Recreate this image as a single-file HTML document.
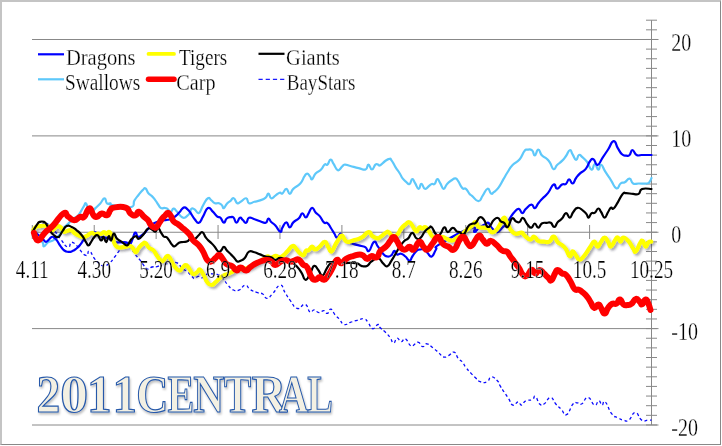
<!DOCTYPE html>
<html><head><meta charset="utf-8"><style>
html,body{margin:0;padding:0;background:#fff;}
#frame{position:absolute;left:0;top:0;width:718px;height:442px;border-top:2px solid #c4c4c4;border-left:2px solid #c4c4c4;border-right:1px solid #888;border-bottom:1px solid #888;background:#fff;overflow:hidden}
svg{position:absolute;left:0;top:0;will-change:transform}
.t text{font-family:"Liberation Serif",serif;fill:#000;stroke:#fff;stroke-width:0.25px}
</style></head><body>
<div id="frame"></div>
<svg width="722" height="446" viewBox="0 0 722 446">
<g>
<line x1="32" y1="39.5" x2="658.5" y2="39.5" stroke="#888" stroke-width="1"/>
<line x1="32" y1="135.9" x2="658.5" y2="135.9" stroke="#888" stroke-width="1"/>
<line x1="32" y1="232.25" x2="658.5" y2="232.25" stroke="#888" stroke-width="1"/>
<line x1="32" y1="328.6" x2="658.5" y2="328.6" stroke="#888" stroke-width="1"/>
<line x1="32" y1="425.0" x2="658.5" y2="425.0" stroke="#888" stroke-width="1"/>
<line x1="651.5" y1="20.2" x2="651.5" y2="425" stroke="#888" stroke-width="1"/>
<line x1="646" y1="20.20" x2="657" y2="20.20" stroke="#888" stroke-width="1"/>
<line x1="646" y1="29.84" x2="657" y2="29.84" stroke="#888" stroke-width="1"/>
<line x1="646" y1="39.47" x2="657" y2="39.47" stroke="#888" stroke-width="1"/>
<line x1="646" y1="49.11" x2="657" y2="49.11" stroke="#888" stroke-width="1"/>
<line x1="646" y1="58.75" x2="657" y2="58.75" stroke="#888" stroke-width="1"/>
<line x1="646" y1="68.39" x2="657" y2="68.39" stroke="#888" stroke-width="1"/>
<line x1="646" y1="78.02" x2="657" y2="78.02" stroke="#888" stroke-width="1"/>
<line x1="646" y1="87.66" x2="657" y2="87.66" stroke="#888" stroke-width="1"/>
<line x1="646" y1="97.30" x2="657" y2="97.30" stroke="#888" stroke-width="1"/>
<line x1="646" y1="106.94" x2="657" y2="106.94" stroke="#888" stroke-width="1"/>
<line x1="646" y1="116.58" x2="657" y2="116.58" stroke="#888" stroke-width="1"/>
<line x1="646" y1="126.21" x2="657" y2="126.21" stroke="#888" stroke-width="1"/>
<line x1="646" y1="135.85" x2="657" y2="135.85" stroke="#888" stroke-width="1"/>
<line x1="646" y1="145.49" x2="657" y2="145.49" stroke="#888" stroke-width="1"/>
<line x1="646" y1="155.12" x2="657" y2="155.12" stroke="#888" stroke-width="1"/>
<line x1="646" y1="164.76" x2="657" y2="164.76" stroke="#888" stroke-width="1"/>
<line x1="646" y1="174.40" x2="657" y2="174.40" stroke="#888" stroke-width="1"/>
<line x1="646" y1="184.04" x2="657" y2="184.04" stroke="#888" stroke-width="1"/>
<line x1="646" y1="193.67" x2="657" y2="193.67" stroke="#888" stroke-width="1"/>
<line x1="646" y1="203.31" x2="657" y2="203.31" stroke="#888" stroke-width="1"/>
<line x1="646" y1="212.95" x2="657" y2="212.95" stroke="#888" stroke-width="1"/>
<line x1="646" y1="222.59" x2="657" y2="222.59" stroke="#888" stroke-width="1"/>
<line x1="646" y1="232.22" x2="657" y2="232.22" stroke="#888" stroke-width="1"/>
<line x1="646" y1="241.86" x2="657" y2="241.86" stroke="#888" stroke-width="1"/>
<line x1="646" y1="251.50" x2="657" y2="251.50" stroke="#888" stroke-width="1"/>
<line x1="646" y1="261.14" x2="657" y2="261.14" stroke="#888" stroke-width="1"/>
<line x1="646" y1="270.77" x2="657" y2="270.77" stroke="#888" stroke-width="1"/>
<line x1="646" y1="280.41" x2="657" y2="280.41" stroke="#888" stroke-width="1"/>
<line x1="646" y1="290.05" x2="657" y2="290.05" stroke="#888" stroke-width="1"/>
<line x1="646" y1="299.69" x2="657" y2="299.69" stroke="#888" stroke-width="1"/>
<line x1="646" y1="309.32" x2="657" y2="309.32" stroke="#888" stroke-width="1"/>
<line x1="646" y1="318.96" x2="657" y2="318.96" stroke="#888" stroke-width="1"/>
<line x1="646" y1="328.60" x2="657" y2="328.60" stroke="#888" stroke-width="1"/>
<line x1="646" y1="338.24" x2="657" y2="338.24" stroke="#888" stroke-width="1"/>
<line x1="646" y1="347.87" x2="657" y2="347.87" stroke="#888" stroke-width="1"/>
<line x1="646" y1="357.51" x2="657" y2="357.51" stroke="#888" stroke-width="1"/>
<line x1="646" y1="367.15" x2="657" y2="367.15" stroke="#888" stroke-width="1"/>
<line x1="646" y1="376.79" x2="657" y2="376.79" stroke="#888" stroke-width="1"/>
<line x1="646" y1="386.42" x2="657" y2="386.42" stroke="#888" stroke-width="1"/>
<line x1="646" y1="396.06" x2="657" y2="396.06" stroke="#888" stroke-width="1"/>
<line x1="646" y1="405.70" x2="657" y2="405.70" stroke="#888" stroke-width="1"/>
<line x1="646" y1="415.34" x2="657" y2="415.34" stroke="#888" stroke-width="1"/>
<line x1="646" y1="424.97" x2="657" y2="424.97" stroke="#888" stroke-width="1"/>
<line x1="32.30" y1="225" x2="32.30" y2="239" stroke="#888" stroke-width="1"/>
<line x1="94.22" y1="225" x2="94.22" y2="239" stroke="#888" stroke-width="1"/>
<line x1="156.14" y1="225" x2="156.14" y2="239" stroke="#888" stroke-width="1"/>
<line x1="218.06" y1="225" x2="218.06" y2="239" stroke="#888" stroke-width="1"/>
<line x1="279.98" y1="225" x2="279.98" y2="239" stroke="#888" stroke-width="1"/>
<line x1="341.90" y1="225" x2="341.90" y2="239" stroke="#888" stroke-width="1"/>
<line x1="403.82" y1="225" x2="403.82" y2="239" stroke="#888" stroke-width="1"/>
<line x1="465.74" y1="225" x2="465.74" y2="239" stroke="#888" stroke-width="1"/>
<line x1="527.66" y1="225" x2="527.66" y2="239" stroke="#888" stroke-width="1"/>
<line x1="589.58" y1="225" x2="589.58" y2="239" stroke="#888" stroke-width="1"/>
<line x1="651.50" y1="225" x2="651.50" y2="239" stroke="#888" stroke-width="1"/>
</g>
<defs><filter id="sh" x="-5%" y="-30%" width="110%" height="160%"><feGaussianBlur in="SourceAlpha" stdDeviation="1.1"/><feOffset dx="1.6" dy="1.8" result="b"/><feFlood flood-color="#303040" flood-opacity="0.40"/><feComposite in2="b" operator="in"/><feMerge><feMergeNode/><feMergeNode in="SourceGraphic"/></feMerge></filter></defs>
<path d="M32.7,230.3 C34.0,229.2 34.7,227.8 37.4,226.2 C40.1,224.6 40.5,225.1 42.8,224.2 C45.1,223.3 44.0,222.0 46.2,222.9 C48.4,223.8 48.2,224.9 50.9,227.6 C53.6,230.3 53.6,229.8 56.3,233.0 C59.0,236.2 57.9,235.8 61.0,239.6 C64.1,243.4 64.9,246.4 68.1,247.2 C71.3,248.0 68.5,240.5 73.1,242.6 C77.7,244.7 80.9,253.0 85.2,255.2 C89.5,257.4 86.8,250.2 89.2,251.0 C91.6,251.8 91.8,255.1 94.3,258.3 C96.8,261.5 96.0,260.8 98.5,262.9 C101.0,265.0 100.9,265.9 103.8,266.0 C106.7,266.1 106.3,265.7 109.2,263.3 C112.1,260.9 112.0,260.3 114.6,257.0 C117.2,253.7 116.7,253.9 119.1,250.8 C121.5,247.7 121.4,247.3 123.6,245.4 C125.8,243.5 125.3,242.9 127.2,243.6 C129.1,244.3 128.6,245.2 130.7,248.1 C132.8,251.0 132.8,251.2 135.2,254.3 C137.6,257.4 137.7,257.2 139.7,259.7 C141.7,262.2 140.7,261.3 142.7,263.8 C144.7,266.3 144.7,268.1 147.2,269.0 C149.7,269.9 149.1,267.8 152.1,267.0 C155.1,266.2 155.4,267.5 158.4,266.1 C161.4,264.7 160.8,262.1 163.3,261.6 C165.8,261.1 165.6,263.8 167.8,264.3 C170.0,264.8 168.9,263.8 171.4,263.4 C173.9,263.0 174.3,261.6 177.2,262.9 C180.1,264.2 179.5,265.9 182.2,268.3 C184.9,270.7 184.9,269.7 187.5,271.9 C190.1,274.1 190.1,274.6 192.0,276.4 C193.9,278.2 193.0,278.6 194.7,278.6 C196.4,278.6 196.2,276.6 198.3,276.4 C200.4,276.2 200.0,278.4 202.5,277.7 C205.0,277.0 204.8,274.9 207.5,273.9 C210.2,272.9 209.9,273.7 212.6,273.9 C215.3,274.1 214.9,273.3 217.6,274.5 C220.3,275.7 219.9,275.6 222.6,278.3 C225.3,281.0 224.9,281.6 227.6,284.6 C230.3,287.6 229.6,288.1 232.6,289.6 C235.6,291.1 235.5,291.4 238.9,290.2 C242.3,289.0 242.2,285.4 245.2,285.2 C248.2,285.0 246.9,287.6 250.2,289.6 C253.5,291.6 254.3,291.5 257.7,292.7 C261.1,293.9 260.3,292.5 262.8,294.0 C265.3,295.5 264.4,298.6 267.1,298.4 C269.8,298.2 269.3,296.9 272.8,293.4 C276.3,289.9 277.0,285.4 280.3,285.2 C283.6,285.0 282.3,288.3 285.0,292.5 C287.7,296.7 287.2,296.6 290.5,300.9 C293.8,305.2 293.6,307.6 297.5,308.5 C301.4,309.4 301.8,303.4 305.1,304.3 C308.4,305.2 307.6,310.5 310.0,312.0 C312.4,313.5 311.8,309.7 314.2,309.9 C316.6,310.1 316.4,312.5 319.0,312.7 C321.6,312.9 321.7,310.4 323.9,310.6 C326.1,310.8 325.5,313.8 327.4,313.4 C329.3,313.0 328.9,308.8 330.9,309.2 C332.9,309.6 332.8,312.2 335.0,314.8 C337.2,317.4 336.8,316.3 339.2,318.9 C341.6,321.5 341.1,323.6 344.1,324.5 C347.1,325.4 346.8,323.5 350.3,322.4 C353.8,321.3 353.6,321.2 357.3,320.3 C361.0,319.4 361.2,318.2 364.2,318.9 C367.2,319.6 366.2,320.5 368.4,323.1 C370.6,325.7 370.0,328.3 372.6,328.7 C375.2,329.1 375.9,324.7 378.0,324.5 C380.1,324.3 378.2,325.6 380.3,327.8 C382.4,330.0 383.3,330.1 385.9,332.7 C388.5,335.3 388.0,334.8 390.1,337.6 C392.2,340.4 391.8,342.9 393.6,343.1 C395.4,343.3 395.0,338.6 397.0,338.2 C399.0,337.8 399.0,341.5 401.2,341.7 C403.4,341.9 402.8,337.8 405.4,338.9 C408.0,340.0 408.3,344.6 410.9,345.9 C413.5,347.2 413.0,344.7 415.1,343.8 C417.2,342.9 416.5,341.7 418.6,342.4 C420.7,343.1 420.6,346.2 422.8,346.6 C425.0,347.0 424.1,343.4 426.9,343.8 C429.7,344.2 430.0,345.6 433.2,348.0 C436.4,350.4 436.0,350.5 438.8,352.9 C441.6,355.3 441.0,356.3 443.6,357.0 C446.2,357.7 445.7,356.9 448.5,355.6 C451.3,354.3 451.5,351.5 454.1,352.2 C456.7,352.9 456.0,355.8 458.2,358.4 C460.4,361.0 460.4,359.7 462.4,362.0 C464.4,364.3 463.3,364.1 465.6,367.1 C467.9,370.1 468.5,370.6 471.1,373.4 C473.7,376.2 472.9,375.4 475.3,377.6 C477.7,379.8 477.1,380.6 480.2,381.7 C483.3,382.8 484.1,383.0 487.1,381.7 C490.1,380.4 488.5,377.1 491.3,376.9 C494.1,376.7 495.3,378.7 497.6,381.0 C499.9,383.3 498.2,382.7 500.0,385.7 C501.8,388.7 502.0,388.8 504.3,392.2 C506.6,395.6 506.3,395.2 508.6,398.6 C510.9,402.0 510.3,404.2 512.9,405.1 C515.5,406.0 515.9,401.8 518.2,401.8 C520.5,401.8 519.5,405.4 521.5,405.1 C523.5,404.8 522.9,402.2 525.8,400.8 C528.7,399.4 529.6,400.8 532.2,399.7 C534.8,398.6 533.4,395.4 535.4,396.5 C537.4,397.6 537.4,402.0 539.7,404.0 C542.0,406.0 541.1,405.7 544.0,404.0 C546.9,402.3 547.4,397.5 550.5,397.5 C553.6,397.5 552.9,400.9 555.8,404.0 C558.7,407.1 558.3,406.4 561.2,409.3 C564.1,412.2 563.5,416.1 566.6,414.7 C569.7,413.3 570.1,407.1 573.0,404.0 C575.9,400.9 575.0,402.9 577.3,402.9 C579.6,402.9 578.7,405.4 581.6,404.0 C584.5,402.6 584.6,397.2 588.0,397.5 C591.4,397.8 591.6,404.2 594.5,405.1 C597.4,406.0 596.8,400.8 598.8,400.8 C600.8,400.8 600.3,404.8 602.0,405.1 C603.7,405.4 602.6,399.5 605.2,401.8 C607.8,404.1 608.2,409.3 611.6,413.6 C615.0,417.9 615.0,416.2 618.1,417.9 C621.2,419.6 620.5,419.5 623.4,420.1 C626.3,420.7 625.6,422.1 628.8,420.1 C632.0,418.1 631.9,412.6 635.3,412.6 C638.7,412.6 638.3,418.1 641.7,420.1 C645.1,422.1 645.5,420.1 648.1,420.1 C650.7,420.1 650.6,420.1 651.5,420.1" fill="none" stroke-linejoin="round" stroke="#0a0aff" stroke-width="1.3" stroke-dasharray="3,2.6"/>
<path d="M32.5,232.0 C33.4,233.6 33.4,235.3 36.0,238.0 C38.6,240.7 40.2,239.9 42.3,242.1 C44.4,244.3 42.4,246.3 44.0,246.3 C45.6,246.3 45.7,243.7 48.2,242.1 C50.7,240.5 50.3,242.2 53.2,240.4 C56.1,238.6 56.4,238.4 59.1,235.3 C61.8,232.2 60.8,231.7 63.3,228.6 C65.8,225.5 65.6,226.3 68.3,223.6 C71.0,220.9 70.7,220.7 73.4,218.5 C76.1,216.3 75.7,218.3 78.4,215.2 C81.1,212.1 81.5,209.9 83.5,206.8 C85.5,203.7 84.7,202.5 86.0,203.4 C87.3,204.3 86.9,207.9 88.5,210.1 C90.1,212.3 90.1,212.3 91.9,211.8 C93.7,211.3 93.0,210.6 95.2,208.4 C97.4,206.2 97.8,206.1 100.3,203.4 C102.8,200.7 102.7,198.4 104.5,198.4 C106.3,198.4 105.4,202.1 107.0,203.4 C108.6,204.7 109.0,202.9 110.4,203.4 C111.8,203.9 107.0,204.2 112.3,205.2 C117.6,206.2 124.4,208.6 130.3,207.3 C136.2,206.0 132.3,203.7 134.5,200.3 C136.7,196.9 136.5,197.5 138.7,194.7 C140.9,191.9 141.1,191.6 142.9,189.9 C144.7,188.2 144.1,187.6 145.6,188.5 C147.1,189.4 146.7,191.3 148.4,193.3 C150.1,195.3 150.0,194.2 151.9,196.1 C153.8,198.0 153.7,198.1 155.4,200.3 C157.1,202.5 156.7,202.4 158.2,204.5 C159.7,206.6 159.1,207.1 160.9,208.0 C162.7,208.9 163.2,207.7 165.1,208.0 C167.0,208.3 166.4,208.2 167.9,209.3 C169.4,210.4 169.2,212.3 170.7,212.1 C172.2,211.9 171.9,209.0 173.4,208.6 C174.9,208.2 174.7,209.2 176.2,210.7 C177.7,212.2 177.5,212.5 179.0,214.2 C180.5,215.9 180.3,216.1 181.8,217.0 C183.3,217.9 183.1,218.1 184.6,217.7 C186.1,217.3 186.0,216.9 187.4,215.6 C188.8,214.3 189.0,214.6 190.0,212.8 C191.0,211.0 190.0,209.7 191.3,208.8 C192.6,207.9 192.7,208.4 194.7,209.5 C196.7,210.6 196.7,214.0 198.9,212.9 C201.1,211.8 200.7,209.2 203.1,205.3 C205.5,201.4 205.7,199.6 207.9,198.3 C210.1,197.0 209.5,199.1 211.4,200.4 C213.3,201.7 212.8,202.5 214.9,203.2 C217.0,203.9 217.2,202.6 219.1,203.2 C221.0,203.8 220.6,204.0 221.9,205.3 C223.2,206.6 222.6,208.5 223.9,208.1 C225.2,207.7 225.0,205.8 226.7,203.9 C228.4,202.0 228.3,202.6 230.2,201.1 C232.1,199.6 231.8,197.7 233.7,198.3 C235.6,198.9 235.4,202.3 237.2,203.2 C239.0,204.1 238.2,203.1 240.6,201.8 C243.0,200.5 244.0,197.9 246.2,198.3 C248.4,198.7 246.8,202.3 249.0,203.2 C251.2,204.1 251.5,202.5 254.5,201.8 C257.5,201.1 257.1,201.5 260.1,200.4 C263.1,199.3 263.5,199.4 265.7,197.6 C267.9,195.8 266.9,193.3 268.4,193.5 C269.9,193.7 269.3,197.7 271.2,198.3 C273.1,198.9 273.2,197.1 275.4,195.6 C277.6,194.1 277.7,193.4 279.6,192.8 C281.5,192.2 280.6,194.5 282.4,193.5 C284.2,192.5 284.3,188.8 286.3,188.9 C288.3,189.0 287.9,193.8 289.8,193.8 C291.7,193.8 290.5,191.7 293.3,188.9 C296.1,186.1 297.3,186.7 300.3,183.4 C303.3,180.1 302.6,179.0 304.4,176.4 C306.2,173.8 305.7,173.6 307.2,173.6 C308.7,173.6 308.7,174.9 310.0,176.4 C311.3,177.9 310.6,179.9 312.1,179.2 C313.6,178.5 313.2,176.2 315.6,173.6 C318.0,171.0 318.7,171.9 321.1,169.5 C323.5,167.1 322.9,165.9 324.6,164.6 C326.3,163.3 325.8,165.9 327.4,164.6 C329.0,163.3 328.9,159.9 330.6,159.7 C332.3,159.5 331.7,161.1 333.6,163.9 C335.5,166.7 335.6,169.5 337.8,170.2 C340.0,170.9 340.1,168.2 342.0,166.7 C343.9,165.2 342.6,164.8 344.8,164.6 C347.0,164.4 346.6,165.1 350.3,166.0 C354.0,166.9 354.6,167.2 358.7,168.1 C362.8,169.0 363.0,170.4 365.6,169.5 C368.2,168.6 366.7,164.6 368.4,164.6 C370.1,164.6 370.0,169.5 371.9,169.5 C373.8,169.5 373.8,165.9 375.4,164.6 C377.0,163.3 376.7,164.4 378.0,164.6 C379.3,164.8 378.4,166.2 380.3,165.2 C382.2,164.2 382.8,162.7 385.2,161.0 C387.6,159.3 387.7,159.1 389.4,158.9 C391.1,158.7 389.8,158.1 391.5,160.3 C393.2,162.5 393.4,163.8 395.6,167.3 C397.8,170.8 397.9,170.5 399.8,173.5 C401.7,176.5 400.9,176.2 402.6,178.4 C404.3,180.6 404.2,180.4 406.1,181.9 C408.0,183.4 407.9,184.6 409.6,183.9 C411.3,183.2 410.8,179.3 412.3,179.1 C413.8,178.9 413.4,180.6 415.1,183.2 C416.8,185.8 416.9,188.6 418.6,188.8 C420.3,189.0 419.7,183.9 421.4,183.9 C423.1,183.9 422.9,188.2 424.9,188.8 C426.9,189.4 427.2,187.3 429.0,186.0 C430.8,184.7 430.3,184.5 431.8,183.9 C433.3,183.3 433.1,185.2 434.6,183.9 C436.1,182.6 435.9,179.3 437.4,179.1 C438.9,178.9 438.5,180.6 440.2,183.2 C441.9,185.8 441.8,188.6 443.6,188.8 C445.4,189.0 445.0,186.1 447.1,183.9 C449.2,181.7 449.1,182.0 451.3,180.5 C453.5,179.0 453.6,178.2 455.4,178.4 C457.2,178.6 456.3,178.6 458.2,181.2 C460.1,183.8 460.3,186.1 462.4,188.1 C464.5,190.1 464.0,187.3 465.9,188.8 C467.8,190.3 467.8,191.8 469.4,193.7 C471.0,195.6 469.6,193.8 472.0,195.8 C474.4,197.8 475.6,201.3 478.5,201.2 C481.4,201.1 480.3,198.9 482.7,195.6 C485.1,192.3 485.4,189.3 487.6,188.7 C489.8,188.1 489.3,192.6 491.0,193.5 C492.7,194.4 491.7,193.9 493.8,192.2 C495.9,190.5 496.1,190.8 498.7,187.3 C501.3,183.8 501.2,183.0 503.6,178.9 C506.0,174.8 505.3,175.7 507.7,172.0 C510.1,168.3 509.5,168.3 512.6,165.0 C515.7,161.7 516.4,163.2 519.5,159.5 C522.6,155.8 522.3,153.7 524.4,151.1 C526.5,148.5 525.1,149.9 527.2,149.7 C529.3,149.5 530.1,148.9 532.1,150.4 C534.1,151.9 533.1,155.5 534.8,155.3 C536.5,155.1 536.4,149.7 538.3,149.7 C540.2,149.7 539.6,152.9 541.8,155.3 C544.0,157.7 544.5,156.8 546.7,158.8 C548.9,160.8 548.3,160.1 550.1,162.9 C551.9,165.7 551.7,168.6 553.6,169.2 C555.5,169.8 554.9,167.2 557.1,165.0 C559.3,162.8 559.6,163.3 562.0,160.9 C564.4,158.5 563.9,158.9 566.0,156.0 C568.1,153.1 568.0,150.7 569.8,150.2 C571.6,149.7 570.9,151.7 572.6,154.3 C574.3,156.9 574.4,159.7 576.1,159.9 C577.8,160.1 577.2,155.7 578.9,155.0 C580.6,154.3 580.1,155.2 582.3,157.1 C584.5,159.0 584.8,158.7 587.2,162.0 C589.6,165.3 589.3,169.0 591.4,169.6 C593.5,170.2 593.1,164.1 594.9,164.1 C596.7,164.1 596.6,169.4 598.3,169.6 C600.0,169.8 599.2,164.2 601.1,164.8 C603.0,165.4 602.7,167.6 605.3,171.7 C607.9,175.8 607.9,175.6 610.9,180.1 C613.9,184.6 613.8,187.5 616.4,188.4 C619.0,189.3 618.4,185.2 620.6,183.5 C622.8,181.8 622.4,183.5 624.8,182.2 C627.2,180.9 627.4,178.4 629.6,178.7 C631.8,179.0 630.7,182.2 633.1,183.5 C635.5,184.8 635.0,183.5 638.7,183.5 C642.4,183.5 644.0,184.0 647.0,183.5 C650.0,183.0 648.6,183.0 649.8,181.5 C651.0,180.0 651.0,178.9 651.5,178.0" fill="none" stroke-linejoin="round" stroke-linecap="round" stroke="#5ec8fa" stroke-width="2.2"/>
<path d="M32.7,230.3 C33.6,231.0 33.4,230.7 36.1,233.0 C38.8,235.3 40.3,236.7 42.8,239.0 C45.3,241.3 44.1,241.3 45.5,241.7 C46.9,242.1 46.6,241.7 48.2,240.4 C49.8,239.1 50.0,237.7 51.6,237.0 C53.2,236.3 52.8,236.8 54.2,237.7 C55.6,238.6 55.3,238.2 56.9,240.4 C58.5,242.6 58.3,243.1 60.3,245.8 C62.3,248.5 62.1,248.9 64.3,250.5 C66.5,252.1 66.2,251.6 68.4,251.8 C70.6,252.0 70.2,252.0 72.4,251.1 C74.6,250.2 74.3,250.3 76.5,248.5 C78.7,246.7 78.7,246.6 80.5,244.4 C82.3,242.2 81.8,242.4 83.2,240.4 C84.6,238.4 84.1,238.6 85.9,237.0 C87.7,235.4 87.4,235.6 89.9,234.3 C92.4,233.0 92.3,231.6 95.3,232.3 C98.3,233.0 97.7,235.2 101.1,236.8 C104.5,238.4 104.6,236.9 108.1,238.2 C111.6,239.5 111.3,240.6 114.3,241.7 C117.3,242.8 116.0,242.2 119.2,242.4 C122.4,242.6 123.4,241.8 126.2,242.4 C129.0,243.0 127.9,245.2 129.6,244.5 C131.3,243.8 130.9,242.8 132.4,239.6 C133.9,236.4 133.7,233.3 135.2,232.6 C136.7,231.9 136.3,236.1 138.0,236.8 C139.7,237.5 139.7,236.5 141.5,235.4 C143.3,234.3 143.1,234.4 144.9,232.6 C146.7,230.8 146.0,231.0 148.4,228.5 C150.8,226.0 150.3,225.3 154.0,223.2 C157.7,221.1 158.6,221.4 162.3,220.5 C166.0,219.6 164.9,220.5 167.9,219.8 C170.9,219.1 170.4,219.6 173.4,217.7 C176.4,215.8 176.8,215.0 179.0,212.8 C181.2,210.6 180.3,210.8 181.8,209.3 C183.3,207.8 183.1,207.3 184.6,207.3 C186.1,207.3 186.0,208.0 187.4,209.3 C188.8,210.6 188.1,209.5 190.0,212.1 C191.9,214.7 192.3,216.4 194.7,219.2 C197.1,222.0 196.7,223.4 198.9,222.7 C201.1,222.0 200.7,220.3 203.1,216.4 C205.5,212.5 205.3,209.4 207.9,208.1 C210.5,206.8 210.4,209.4 212.8,211.6 C215.2,213.8 214.9,214.7 217.0,216.4 C219.1,218.1 218.7,216.1 220.5,217.8 C222.3,219.5 222.2,222.5 223.9,222.7 C225.6,222.9 224.8,220.0 226.7,218.5 C228.6,217.0 229.0,217.3 230.9,217.1 C232.8,216.9 232.2,216.3 233.7,217.8 C235.2,219.3 234.8,222.7 236.5,222.7 C238.2,222.7 238.2,218.5 239.9,217.8 C241.6,217.1 241.0,218.6 242.7,219.9 C244.4,221.2 244.5,223.3 246.2,222.7 C247.9,222.1 246.8,218.7 249.0,217.8 C251.2,216.9 251.5,218.3 254.5,219.2 C257.5,220.1 257.1,220.4 260.1,221.3 C263.1,222.2 263.5,223.4 265.7,222.7 C267.9,222.0 266.9,218.7 268.4,218.5 C269.9,218.3 269.3,220.1 271.2,222.0 C273.1,223.9 273.0,222.9 275.4,225.5 C277.8,228.1 278.4,231.1 280.3,231.7 C282.2,232.3 280.8,230.1 282.4,227.6 C284.0,225.1 284.3,222.5 286.3,222.4 C288.3,222.3 287.9,227.3 289.8,227.3 C291.7,227.3 290.9,224.8 293.3,222.4 C295.7,220.0 296.5,220.6 298.9,218.2 C301.3,215.8 300.5,213.5 302.3,213.3 C304.1,213.1 304.1,217.5 305.8,217.5 C307.5,217.5 306.9,215.9 308.6,213.3 C310.3,210.7 310.2,208.0 312.1,207.8 C314.0,207.6 313.6,210.4 315.6,212.6 C317.6,214.8 317.5,213.5 319.7,216.1 C321.9,218.7 321.8,220.5 323.9,222.4 C326.0,224.3 325.5,221.6 327.4,223.1 C329.3,224.6 329.1,225.2 330.9,228.0 C332.7,230.8 332.6,230.9 334.3,233.5 C336.0,236.1 335.4,237.7 337.1,237.7 C338.8,237.7 338.9,233.3 340.6,233.5 C342.3,233.7 341.6,236.2 343.4,238.4 C345.2,240.6 344.9,240.4 347.5,241.9 C350.1,243.4 349.4,242.8 353.1,243.9 C356.8,245.0 358.1,245.1 361.4,246.0 C364.7,246.9 363.5,246.1 365.6,247.4 C367.7,248.7 366.9,252.4 369.1,250.9 C371.3,249.4 371.6,243.0 374.0,241.9 C376.4,240.8 375.6,243.6 378.0,246.7 C380.4,249.8 380.6,251.1 383.1,253.7 C385.6,256.3 385.1,256.1 387.3,256.5 C389.5,256.9 389.6,256.6 391.5,255.1 C393.4,253.6 392.8,251.1 394.3,250.9 C395.8,250.7 395.2,253.7 397.0,254.4 C398.8,255.1 399.0,253.1 401.2,253.7 C403.4,254.3 403.2,254.7 405.4,256.5 C407.6,258.3 407.8,260.6 409.6,260.6 C411.4,260.6 410.5,259.1 412.3,256.5 C414.1,253.9 414.4,252.8 416.5,250.9 C418.6,249.0 417.9,249.9 420.0,249.5 C422.1,249.1 422.2,248.6 424.2,249.5 C426.2,250.4 425.6,251.1 427.6,253.0 C429.6,254.9 429.6,257.4 431.8,256.5 C434.0,255.6 433.8,252.9 436.0,249.5 C438.2,246.1 431.1,249.5 440.2,243.9 C449.3,238.3 461.1,231.6 470.2,228.4 C479.3,225.2 472.5,231.5 474.3,231.9 C476.1,232.3 475.2,231.3 477.1,229.8 C479.0,228.3 479.1,227.8 481.3,226.3 C483.5,224.8 483.6,225.1 485.5,224.2 C487.4,223.3 486.8,222.1 488.3,222.8 C489.8,223.5 489.3,224.9 491.0,227.0 C492.7,229.1 492.6,229.2 494.5,230.5 C496.4,231.8 495.9,232.6 498.0,231.9 C500.1,231.2 500.0,229.8 502.2,227.7 C504.4,225.6 504.1,227.0 506.3,224.2 C508.5,221.4 508.3,220.6 510.5,217.3 C512.7,214.0 512.5,213.9 514.7,211.7 C516.9,209.5 516.9,208.5 518.9,208.9 C520.9,209.3 520.5,213.1 522.3,213.1 C524.1,213.1 523.4,211.1 525.8,208.9 C528.2,206.7 529.0,204.9 531.4,204.7 C533.8,204.5 533.0,208.6 534.8,208.2 C536.6,207.8 536.2,205.9 538.3,203.3 C540.4,200.7 539.9,201.3 542.5,198.5 C545.1,195.7 545.1,196.6 548.1,192.9 C551.1,189.2 551.2,185.6 553.6,184.5 C556.0,183.4 554.9,188.7 557.1,188.7 C559.3,188.7 559.6,185.8 562.0,184.5 C564.4,183.2 564.1,185.2 566.0,183.8 C567.9,182.4 567.3,179.5 569.1,179.4 C570.9,179.3 570.7,183.9 572.6,183.5 C574.5,183.1 574.0,180.8 576.1,178.0 C578.2,175.2 577.7,175.5 580.3,173.1 C582.9,170.7 583.2,172.0 585.8,168.9 C588.4,165.8 587.9,163.9 590.0,161.3 C592.1,158.7 591.5,158.3 593.5,159.2 C595.5,160.1 595.2,165.2 597.6,164.8 C600.0,164.4 599.7,161.9 602.5,157.8 C605.3,153.7 605.1,154.0 608.1,149.5 C611.1,145.0 611.0,141.5 613.6,141.1 C616.2,140.7 615.6,144.6 617.8,148.1 C620.0,151.6 619.8,152.3 622.0,154.3 C624.2,156.3 624.2,155.5 626.2,155.7 C628.2,155.9 627.9,156.5 629.6,155.0 C631.3,153.5 630.5,150.2 632.4,150.2 C634.3,150.2 634.2,153.7 636.6,155.0 C639.0,156.3 637.5,155.0 641.5,155.0 C645.5,155.0 648.8,155.0 651.5,155.0" fill="none" stroke-linejoin="round" stroke-linecap="round" stroke="#0000ff" stroke-width="2.2"/>
<path d="M33.4,230.0 C34.2,229.1 34.7,227.5 36.5,226.5 C38.3,225.5 37.7,226.4 40.1,226.2 C42.5,226.0 43.2,225.3 45.5,225.6 C47.8,225.9 47.1,225.9 48.9,227.2 C50.7,228.5 50.2,230.4 52.2,230.3 C54.2,230.2 54.1,227.8 56.3,226.9 C58.5,226.0 58.3,225.6 60.3,226.9 C62.3,228.2 61.9,230.5 63.7,231.6 C65.5,232.7 65.0,231.3 67.0,231.0 C69.0,230.7 68.9,229.6 71.1,230.3 C73.3,231.0 73.0,232.2 75.1,233.6 C77.2,235.0 76.9,234.8 79.1,235.7 C81.3,236.6 81.0,237.0 83.2,237.0 C85.4,237.0 85.0,236.8 87.2,235.7 C89.4,234.6 89.1,233.4 91.3,233.0 C93.5,232.6 93.5,234.1 95.3,234.3 C97.1,234.5 96.5,233.7 98.0,233.6 C99.5,233.5 99.5,234.4 101.1,234.0 C102.7,233.6 102.4,232.0 103.9,232.0 C105.4,232.0 105.2,234.0 106.7,234.0 C108.2,234.0 108.0,231.1 109.5,232.0 C111.0,232.9 110.8,234.2 112.3,237.5 C113.8,240.8 113.5,241.9 115.0,244.5 C116.5,247.1 115.9,246.6 117.8,247.3 C119.7,248.0 119.8,247.5 122.0,247.3 C124.2,247.1 124.0,247.0 126.2,246.6 C128.4,246.2 128.5,245.4 130.3,245.9 C132.1,246.4 131.6,246.9 133.1,248.6 C134.6,250.3 134.4,252.3 135.9,252.1 C137.4,251.9 136.8,250.2 138.7,248.0 C140.6,245.8 141.1,245.1 142.9,243.8 C144.7,242.5 143.8,242.0 145.4,243.0 C147.0,244.0 146.8,245.7 149.0,247.7 C151.2,249.7 151.4,248.2 153.5,250.4 C155.6,252.6 155.1,253.2 157.0,255.8 C158.9,258.4 158.9,258.9 160.6,260.2 C162.3,261.5 161.6,261.8 163.3,260.7 C165.0,259.6 165.2,257.0 166.9,256.2 C168.6,255.4 168.2,255.8 169.6,257.6 C171.0,259.4 170.9,260.4 172.3,262.9 C173.7,265.4 173.1,264.9 175.0,267.0 C176.9,269.1 177.4,270.6 179.5,270.6 C181.6,270.6 181.3,268.4 183.0,267.0 C184.7,265.6 184.3,265.1 185.7,265.2 C187.1,265.3 187.0,265.6 188.4,267.4 C189.8,269.2 189.7,270.1 191.1,271.9 C192.5,273.7 192.1,274.1 193.8,274.1 C195.5,274.1 195.7,273.1 197.4,271.9 C199.1,270.7 198.3,268.8 200.0,269.7 C201.7,270.6 201.9,272.0 203.8,275.3 C205.7,278.6 205.3,279.6 207.3,282.2 C209.3,284.8 209.2,285.0 211.4,285.0 C213.6,285.0 213.4,284.0 215.6,282.2 C217.8,280.4 217.6,279.9 219.8,278.1 C222.0,276.3 221.7,276.4 223.9,275.3 C226.1,274.2 225.9,274.8 228.1,273.9 C230.3,273.0 230.1,273.0 232.3,271.8 C234.5,270.6 232.8,270.4 236.5,269.5 C240.2,268.6 240.8,270.1 246.0,268.5 C251.2,266.9 251.5,265.9 256.0,263.5 C260.5,261.1 260.0,261.4 263.0,259.5 C266.0,257.6 264.9,256.9 267.1,256.5 C269.3,256.1 269.0,258.1 271.2,257.9 C273.4,257.7 273.2,256.0 275.4,255.8 C277.6,255.6 277.4,257.4 279.6,257.2 C281.8,257.0 281.4,256.8 283.6,255.1 C285.8,253.4 285.3,253.3 287.7,250.9 C290.1,248.5 290.4,246.6 292.6,246.0 C294.8,245.4 294.0,246.7 296.1,248.8 C298.2,250.9 298.3,252.0 300.3,253.7 C302.3,255.4 302.2,255.8 303.7,255.1 C305.2,254.4 304.5,252.2 305.8,250.9 C307.1,249.6 306.9,251.3 308.6,250.2 C310.3,249.1 310.4,246.9 312.1,246.7 C313.8,246.5 312.9,249.5 314.9,249.5 C316.9,249.5 317.1,248.7 319.7,246.7 C322.3,244.7 322.4,241.9 324.6,241.9 C326.8,241.9 326.3,244.1 328.1,246.7 C329.9,249.3 329.7,252.0 331.5,251.6 C333.3,251.2 332.9,248.8 335.0,245.3 C337.1,241.8 337.3,241.0 339.2,238.4 C341.1,235.8 340.5,235.2 342.0,235.6 C343.5,236.0 343.3,238.1 344.8,239.8 C346.3,241.5 345.3,241.7 347.5,241.9 C349.7,242.1 349.4,241.6 353.1,240.5 C356.8,239.4 357.3,239.9 361.4,237.7 C365.5,235.5 365.4,232.5 368.4,232.1 C371.4,231.7 370.0,234.6 372.6,236.3 C375.2,238.0 375.9,238.2 378.0,238.4 C380.1,238.6 378.2,238.5 380.3,237.0 C382.4,235.5 383.7,234.1 385.9,232.8 C388.1,231.5 387.0,231.4 388.7,232.1 C390.4,232.8 390.0,234.9 392.2,235.6 C394.4,236.3 394.6,236.8 397.0,234.9 C399.4,233.0 399.0,231.4 401.2,228.6 C403.4,225.8 403.2,226.2 405.4,224.5 C407.6,222.8 407.4,221.5 409.6,222.4 C411.8,223.3 411.9,225.5 413.7,227.9 C415.5,230.3 415.0,231.6 416.5,231.4 C418.0,231.2 417.8,228.0 419.3,227.3 C420.8,226.6 420.4,228.6 422.1,228.6 C423.8,228.6 423.7,226.6 425.5,227.3 C427.3,228.0 426.9,228.8 429.0,231.4 C431.1,234.0 430.6,235.5 433.2,237.0 C435.8,238.5 436.2,237.0 438.8,237.0 C441.4,237.0 440.7,236.4 442.9,237.0 C445.1,237.6 444.5,238.2 447.1,239.1 C449.7,240.0 450.1,240.9 452.7,240.5 C455.3,240.1 454.6,239.2 456.8,237.7 C459.0,236.2 458.4,237.0 461.0,234.9 C463.6,232.8 463.7,232.4 466.6,230.0 C469.5,227.6 469.6,228.0 472.0,225.9 C474.4,223.8 474.0,221.8 475.7,222.1 C477.4,222.4 476.3,225.5 478.5,227.0 C480.7,228.5 481.5,227.3 484.1,227.7 C486.7,228.1 486.5,227.3 488.3,228.4 C490.1,229.5 489.2,231.2 491.0,231.9 C492.8,232.6 493.0,232.9 495.2,231.2 C497.4,229.5 497.2,229.1 499.4,225.6 C501.6,222.1 501.8,219.1 503.6,218.0 C505.4,216.9 504.8,219.0 506.3,221.4 C507.8,223.8 507.6,224.4 509.1,227.0 C510.6,229.6 510.0,229.4 511.9,231.2 C513.8,233.0 513.5,233.5 516.1,233.9 C518.7,234.3 519.4,232.2 521.6,232.6 C523.8,233.0 522.2,233.5 524.4,235.3 C526.6,237.1 527.4,239.1 530.0,239.5 C532.6,239.9 532.0,236.3 534.2,236.7 C536.4,237.1 535.7,239.6 538.3,240.9 C540.9,242.2 540.9,241.4 543.9,241.6 C546.9,241.8 546.8,242.9 549.4,241.6 C552.0,240.3 551.4,236.5 553.6,236.7 C555.8,236.9 555.6,240.1 557.8,242.3 C560.0,244.5 559.8,243.3 562.0,245.1 C564.2,246.9 563.9,246.2 566.0,249.2 C568.1,252.2 568.0,255.7 569.8,256.3 C571.6,256.9 570.9,251.6 572.6,251.4 C574.3,251.2 574.2,253.4 576.1,255.6 C578.0,257.8 577.4,259.8 579.6,259.8 C581.8,259.8 581.6,258.9 584.4,255.6 C587.2,252.3 587.4,251.0 590.0,247.3 C592.6,243.6 592.2,241.9 594.2,241.7 C596.2,241.5 595.8,246.6 597.6,246.6 C599.4,246.6 599.2,244.1 601.1,241.7 C603.0,239.3 602.7,237.5 604.6,237.5 C606.5,237.5 606.4,239.3 608.1,241.7 C609.8,244.1 609.1,247.0 610.9,246.6 C612.7,246.2 613.2,242.7 615.0,240.3 C616.8,237.9 616.3,237.1 617.8,237.5 C619.3,237.9 619.1,241.7 620.6,241.7 C622.1,241.7 621.2,237.5 623.4,237.5 C625.6,237.5 626.3,238.7 628.9,241.7 C631.5,244.7 631.2,246.0 633.1,248.6 C635.0,251.2 634.0,252.9 635.9,251.4 C637.8,249.9 638.3,245.9 640.1,243.1 C641.9,240.3 641.3,240.1 642.8,241.0 C644.3,241.9 644.1,246.2 645.6,246.6 C647.1,247.0 646.9,243.7 648.4,242.4 C649.9,241.1 650.5,241.9 651.2,241.7" fill="none" stroke-linejoin="round" stroke-linecap="round" stroke="#ffff00" stroke-width="4.2" filter="url(#sh)"/>
<path d="M33.0,231.1 C34.1,229.3 35.4,226.9 37.2,224.4 C39.0,221.9 38.0,222.6 39.8,221.9 C41.6,221.2 42.2,221.2 44.0,221.9 C45.8,222.6 45.0,222.2 46.5,224.4 C48.0,226.6 48.0,227.6 49.8,230.3 C51.6,233.0 50.9,232.7 53.2,234.5 C55.5,236.3 55.8,237.9 58.3,237.0 C60.8,236.1 60.3,234.0 62.5,231.1 C64.7,228.2 64.2,227.2 66.7,226.1 C69.2,225.0 69.0,225.8 71.7,226.9 C74.4,228.0 74.0,228.1 76.7,230.3 C79.4,232.5 79.3,232.2 81.8,235.3 C84.3,238.4 84.2,239.4 86.0,242.1 C87.8,244.8 87.2,245.4 88.5,245.4 C89.8,245.4 89.4,244.3 91.0,242.1 C92.6,239.9 92.6,238.8 94.4,237.0 C96.2,235.2 95.9,234.4 97.7,235.3 C99.5,236.2 99.5,239.9 101.1,240.4 C102.7,240.9 102.2,236.5 103.6,237.0 C105.0,237.5 104.8,242.3 106.2,242.1 C107.6,241.9 107.4,236.7 108.7,236.2 C110.0,235.7 109.9,241.1 111.2,240.4 C112.5,239.7 112.1,234.2 113.7,233.7 C115.3,233.2 114.9,236.5 117.1,238.7 C119.3,240.9 119.4,240.3 122.1,242.1 C124.8,243.9 125.0,245.9 127.2,245.4 C129.4,244.9 128.3,242.9 130.5,240.4 C132.7,237.9 133.4,236.7 135.6,236.2 C137.8,235.7 136.7,239.4 138.9,238.7 C141.1,238.0 141.6,236.4 144.0,233.7 C146.4,231.0 145.9,229.7 148.0,228.6 C150.1,227.5 149.9,228.7 151.9,229.5 C153.9,230.3 153.7,232.0 155.4,231.6 C157.1,231.2 156.7,227.9 158.2,228.1 C159.7,228.3 159.4,230.1 160.9,232.3 C162.4,234.5 162.2,235.2 163.7,236.5 C165.2,237.8 165.0,236.1 166.5,237.2 C168.0,238.3 167.8,238.6 169.3,240.6 C170.8,242.6 170.6,243.3 172.1,244.8 C173.6,246.3 173.0,246.8 174.8,246.2 C176.6,245.6 176.8,243.8 179.0,242.7 C181.2,241.6 181.0,242.4 183.2,242.0 C185.4,241.6 185.6,242.0 187.4,241.3 C189.2,240.6 188.1,239.8 190.0,239.2 C191.9,238.6 192.3,240.2 194.7,239.1 C197.1,238.0 196.8,236.8 198.9,235.0 C201.0,233.2 200.5,231.5 202.4,232.2 C204.3,232.9 203.9,235.1 205.9,237.7 C207.9,240.3 207.8,239.7 210.0,241.9 C212.2,244.1 212.0,243.5 214.2,246.1 C216.4,248.7 216.5,250.5 218.4,251.6 C220.3,252.7 219.7,251.6 221.2,250.3 C222.7,249.0 222.4,246.8 223.9,246.8 C225.4,246.8 225.2,248.6 226.7,250.3 C228.2,252.0 227.6,251.2 229.5,253.0 C231.4,254.8 231.6,255.0 233.7,257.2 C235.8,259.4 235.4,260.5 237.2,261.4 C239.0,262.3 238.6,261.6 240.6,260.7 C242.6,259.8 242.6,260.3 244.8,257.9 C247.0,255.5 246.4,253.1 249.0,251.6 C251.6,250.1 251.5,251.6 254.5,252.3 C257.5,253.0 257.1,253.3 260.1,254.4 C263.1,255.5 262.7,255.8 265.7,256.5 C268.7,257.2 268.6,256.3 271.2,257.2 C273.8,258.1 273.0,259.8 275.4,260.0 C277.8,260.2 277.4,257.8 280.3,257.9 C283.2,258.0 283.2,259.1 286.3,260.3 C289.4,261.5 288.9,260.5 291.9,262.4 C294.9,264.3 294.9,264.5 297.5,267.3 C300.1,270.1 299.4,269.5 301.6,272.8 C303.8,276.1 303.4,280.0 305.8,279.8 C308.2,279.6 308.5,275.8 310.7,272.1 C312.9,268.4 312.2,266.5 314.2,265.9 C316.2,265.3 316.1,267.4 318.3,270.0 C320.5,272.6 320.3,276.0 322.5,275.6 C324.7,275.2 324.5,271.9 326.7,268.6 C328.9,265.3 328.3,264.8 330.9,263.1 C333.5,261.4 333.1,262.4 336.4,262.4 C339.7,262.4 338.2,262.9 343.4,263.1 C348.6,263.3 351.1,262.4 355.9,263.1 C360.7,263.8 358.4,265.2 361.4,265.9 C364.4,266.6 364.4,267.0 367.0,265.9 C369.6,264.8 368.3,263.8 371.2,261.7 C374.1,259.6 374.8,257.7 378.0,258.2 C381.2,258.7 380.6,261.3 383.1,263.4 C385.6,265.5 385.1,266.9 387.3,266.2 C389.5,265.5 389.3,263.9 391.5,260.6 C393.7,257.3 393.4,257.4 395.6,253.7 C397.8,250.0 397.6,250.0 399.8,246.7 C402.0,243.4 401.8,243.4 404.0,241.2 C406.2,239.0 406.0,240.6 408.2,238.4 C410.4,236.2 410.1,232.8 412.3,232.8 C414.5,232.8 414.3,237.1 416.5,238.4 C418.7,239.7 418.5,239.6 420.7,237.7 C422.9,235.8 422.7,234.0 424.9,231.4 C427.1,228.8 427.2,229.0 429.0,227.9 C430.8,226.8 429.9,225.6 431.8,227.3 C433.7,229.0 433.8,232.4 436.0,234.2 C438.2,236.0 438.0,236.0 440.2,234.2 C442.4,232.4 442.3,227.9 444.3,227.3 C446.3,226.7 445.6,231.9 447.8,232.1 C450.0,232.3 450.3,228.1 452.7,227.9 C455.1,227.7 455.0,230.3 456.8,231.4 C458.6,232.5 457.7,231.4 459.6,232.1 C461.5,232.8 461.6,235.7 463.8,234.2 C466.0,232.7 465.8,229.4 468.0,226.6 C470.2,223.8 469.9,224.8 472.0,223.8 C474.1,222.8 473.6,224.5 475.7,222.8 C477.8,221.1 477.7,218.0 479.9,217.3 C482.1,216.6 481.9,217.4 484.1,220.0 C486.3,222.6 485.7,227.0 488.3,227.0 C490.9,227.0 491.2,222.4 493.8,220.0 C496.4,217.6 496.1,217.6 498.0,218.0 C499.9,218.4 499.1,220.1 500.8,221.4 C502.5,222.7 502.4,221.3 504.2,222.8 C506.0,224.3 505.6,228.1 507.7,227.0 C509.8,225.9 509.7,220.1 511.9,218.6 C514.1,217.1 514.1,220.5 516.1,221.4 C518.1,222.3 517.7,223.0 519.5,222.1 C521.3,221.2 520.9,217.4 523.0,218.0 C525.1,218.6 525.0,221.6 527.2,224.2 C529.4,226.8 529.4,227.9 531.4,227.7 C533.4,227.5 533.0,223.5 534.8,223.5 C536.6,223.5 536.4,227.7 538.3,227.7 C540.2,227.7 539.6,224.8 541.8,223.5 C544.0,222.2 544.3,223.0 546.7,222.8 C549.1,222.6 548.8,221.7 550.8,222.8 C552.8,223.9 552.4,227.2 554.3,227.0 C556.2,226.8 555.7,224.3 557.8,222.1 C559.9,219.9 559.8,221.0 562.0,218.6 C564.2,216.2 563.9,213.4 566.0,213.1 C568.1,212.8 567.9,217.9 569.8,217.6 C571.7,217.3 571.2,214.6 573.3,212.0 C575.4,209.4 574.9,208.2 577.5,207.8 C580.1,207.4 580.6,208.9 583.0,210.6 C585.4,212.3 585.0,212.2 586.5,214.1 C588.0,216.0 587.3,217.8 588.6,217.6 C589.9,217.4 589.7,214.7 591.4,213.4 C593.1,212.1 593.1,214.0 594.9,212.7 C596.7,211.4 596.6,208.7 598.3,208.5 C600.0,208.3 599.4,209.6 601.1,212.0 C602.8,214.4 602.7,217.6 604.6,217.6 C606.5,217.6 606.4,214.6 608.1,212.0 C609.8,209.4 609.4,208.7 610.9,207.8 C612.4,206.9 611.8,210.0 613.6,208.5 C615.4,207.0 615.4,206.2 617.8,202.3 C620.2,198.4 620.5,196.3 622.7,193.9 C624.9,191.5 623.4,193.2 626.2,193.2 C629.0,193.2 629.8,193.7 633.1,193.9 C636.4,194.1 636.3,195.2 638.7,193.9 C641.1,192.6 638.7,190.3 642.1,189.0 C645.5,187.7 649.0,189.0 651.5,189.0" fill="none" stroke-linejoin="round" stroke-linecap="round" stroke="#000" stroke-width="2.2"/>
<path d="M33.9,232.8 C35.0,234.8 35.2,240.4 38.1,240.4 C41.0,240.4 40.8,236.8 44.8,232.8 C48.8,228.8 48.3,230.4 53.2,225.3 C58.1,220.2 59.3,215.8 63.3,213.5 C67.3,211.2 65.4,215.0 68.3,216.8 C71.2,218.6 71.1,220.2 74.2,220.2 C77.3,220.2 77.4,217.7 80.1,216.8 C82.8,215.9 81.8,219.0 84.3,216.8 C86.8,214.6 86.8,208.8 89.3,208.4 C91.8,208.0 91.5,213.0 93.5,215.2 C95.5,217.4 94.7,217.3 96.9,216.8 C99.1,216.3 99.2,213.9 101.9,213.5 C104.6,213.1 104.7,216.1 107.0,215.2 C109.3,214.3 108.6,212.1 110.4,210.1 C112.2,208.1 109.7,208.3 113.7,207.6 C117.7,206.9 121.0,206.0 125.5,207.6 C130.0,209.2 127.8,211.5 130.5,213.5 C133.2,215.5 133.4,215.7 135.6,215.2 C137.8,214.7 136.7,211.4 138.9,211.8 C141.1,212.2 141.6,214.6 144.0,216.8 C146.4,219.0 146.3,218.1 148.0,220.2 C149.7,222.3 148.9,222.6 150.5,224.5 C152.1,226.4 152.3,226.8 154.0,227.4 C155.7,228.0 155.3,228.0 156.8,226.7 C158.3,225.4 158.0,224.8 159.5,222.6 C161.0,220.4 160.8,220.3 162.3,218.4 C163.8,216.5 163.6,217.1 165.1,215.6 C166.6,214.1 166.4,212.8 167.9,212.8 C169.4,212.8 169.2,213.4 170.7,215.6 C172.2,217.8 171.6,219.0 173.4,221.2 C175.2,223.4 175.4,222.2 177.6,223.9 C179.8,225.6 179.6,225.5 181.8,227.4 C184.0,229.3 183.8,228.8 186.0,230.9 C188.2,233.0 188.1,232.5 190.0,235.1 C191.9,237.7 190.9,237.8 193.3,240.5 C195.7,243.2 196.3,242.4 198.9,245.4 C201.5,248.4 200.9,247.7 203.1,251.6 C205.3,255.5 205.1,257.4 207.3,260.0 C209.5,262.6 209.2,262.0 211.4,261.4 C213.6,260.8 213.5,259.6 215.6,257.9 C217.7,256.2 217.2,254.9 219.1,255.1 C221.0,255.3 220.6,256.2 222.6,258.6 C224.6,261.0 224.1,262.2 226.7,264.2 C229.3,266.2 229.7,264.5 232.3,266.2 C234.9,267.9 234.3,270.0 236.5,270.4 C238.7,270.8 238.0,267.6 240.6,267.6 C243.2,267.6 243.6,270.6 246.2,270.4 C248.8,270.2 247.4,268.9 250.4,266.9 C253.4,264.9 253.2,264.6 257.3,262.8 C261.4,261.0 262.0,260.4 265.7,260.0 C269.4,259.6 268.6,260.1 271.2,261.4 C273.8,262.7 272.8,264.9 275.4,264.9 C278.0,264.9 278.1,262.6 281.0,261.4 C283.9,260.2 283.8,260.2 286.3,260.3 C288.8,260.4 288.3,261.7 290.5,261.7 C292.7,261.7 292.5,260.9 294.7,260.3 C296.9,259.7 296.7,258.5 298.9,259.6 C301.1,260.7 300.8,262.4 303.0,264.5 C305.2,266.6 305.0,264.0 307.2,267.3 C309.4,270.6 309.2,273.7 311.4,277.0 C313.6,280.3 313.4,279.8 315.6,279.8 C317.8,279.8 317.5,277.0 319.7,277.0 C321.9,277.0 321.7,280.2 323.9,279.8 C326.1,279.4 325.9,278.6 328.1,275.6 C330.3,272.6 330.0,272.7 332.2,268.6 C334.4,264.5 334.5,262.1 336.4,260.3 C338.3,258.5 337.7,261.0 339.2,261.7 C340.7,262.4 340.1,263.8 342.0,263.1 C343.9,262.4 343.2,260.8 346.2,258.9 C349.2,257.0 349.0,257.2 353.1,256.1 C357.2,255.0 357.7,254.0 361.4,254.7 C365.1,255.4 364.4,258.5 367.0,258.9 C369.6,259.3 369.0,256.5 371.2,256.1 C373.4,255.7 373.6,257.5 375.4,257.5 C377.2,257.5 376.7,257.9 378.0,256.1 C379.3,254.3 378.2,253.4 380.3,250.9 C382.4,248.4 383.3,249.3 385.9,246.7 C388.5,244.1 388.0,243.8 390.1,241.2 C392.2,238.6 391.8,237.0 393.6,237.0 C395.4,237.0 395.0,238.2 397.0,241.2 C399.0,244.2 399.0,245.9 401.2,248.1 C403.4,250.3 403.2,249.9 405.4,249.5 C407.6,249.1 407.4,246.7 409.6,246.7 C411.8,246.7 411.1,250.8 413.7,249.5 C416.3,248.2 416.7,242.6 419.3,241.9 C421.9,241.2 421.3,244.7 423.5,246.7 C425.7,248.7 425.0,250.6 427.6,249.5 C430.2,248.4 430.4,245.9 433.2,242.6 C436.0,239.3 435.5,236.7 438.1,237.0 C440.7,237.3 440.1,241.3 442.9,243.9 C445.7,246.5 445.5,245.2 448.5,246.7 C451.5,248.2 451.1,251.3 454.1,249.5 C457.1,247.7 457.0,243.1 459.6,239.8 C462.2,236.5 461.6,235.9 463.8,237.0 C466.0,238.1 465.8,241.7 468.0,243.9 C470.2,246.1 469.2,247.4 472.0,245.3 C474.8,243.2 475.6,237.5 478.5,236.0 C481.4,234.5 480.5,237.4 482.7,239.5 C484.9,241.6 484.7,243.3 486.9,243.7 C489.1,244.1 488.4,240.5 491.0,240.9 C493.6,241.3 493.6,242.5 496.6,245.1 C499.6,247.7 499.4,248.8 502.2,250.6 C505.0,252.4 504.8,250.2 507.0,251.8 C509.2,253.4 508.4,253.9 510.5,256.7 C512.6,259.5 512.5,259.3 514.7,262.3 C516.9,265.3 516.7,264.5 518.9,267.8 C521.1,271.1 520.8,272.7 523.0,274.8 C525.2,276.9 525.0,276.8 527.2,275.5 C529.4,274.2 529.2,270.5 531.4,269.9 C533.6,269.3 533.3,273.4 535.5,273.4 C537.7,273.4 537.5,269.9 539.7,269.9 C541.9,269.9 541.7,271.3 543.9,273.4 C546.1,275.5 546.1,275.8 548.1,277.6 C550.1,279.4 549.7,281.4 551.5,280.3 C553.3,279.2 553.3,276.2 555.0,273.4 C556.7,270.6 555.9,269.9 557.8,269.9 C559.7,269.9 559.8,272.1 562.0,273.4 C564.2,274.7 563.7,272.6 566.0,274.8 C568.3,277.0 568.2,277.7 570.5,281.5 C572.8,285.3 572.5,286.9 574.7,289.1 C576.9,291.3 576.7,288.9 578.9,289.8 C581.1,290.7 580.8,290.7 583.0,292.6 C585.2,294.5 585.1,294.2 587.2,296.8 C589.3,299.4 588.8,299.3 590.7,302.3 C592.6,305.3 592.2,307.3 594.2,307.9 C596.2,308.5 596.5,304.4 598.3,304.4 C600.1,304.4 599.4,305.5 601.1,307.9 C602.8,310.3 602.7,313.5 604.6,313.5 C606.5,313.5 606.1,310.5 608.1,307.9 C610.1,305.3 610.0,304.8 612.2,303.7 C614.4,302.6 614.3,304.8 616.4,303.7 C618.5,302.6 618.0,299.4 619.9,299.6 C621.8,299.8 621.4,302.9 623.4,304.4 C625.4,305.9 625.3,305.3 627.5,305.1 C629.7,304.9 629.5,305.4 631.7,303.7 C633.9,302.0 633.7,299.3 635.9,298.9 C638.1,298.5 638.4,300.8 640.1,302.3 C641.8,303.8 640.6,305.1 642.1,304.4 C643.6,303.7 643.9,299.8 645.6,299.6 C647.3,299.4 647.1,300.9 648.4,303.7 C649.7,306.5 649.9,308.3 650.5,310.0" fill="none" stroke-linejoin="round" stroke-linecap="round" stroke="#ff0000" stroke-width="6"/>
<g class="t">
<text x="839.12" y="51.3" transform="scale(0.8,1)" text-anchor="start" style="font-size:25px">20</text>
<text x="839.12" y="147.2" transform="scale(0.8,1)" text-anchor="start" style="font-size:25px">10</text>
<text x="839.12" y="243.3" transform="scale(0.8,1)" text-anchor="start" style="font-size:25px">0</text>
<text x="839.12" y="340.2" transform="scale(0.8,1)" text-anchor="start" style="font-size:25px">-10</text>
<text x="839.12" y="436.0" transform="scale(0.8,1)" text-anchor="start" style="font-size:25px">-20</text>
<text x="40.89" y="277.9" transform="scale(0.79,1)" text-anchor="middle" style="font-size:24.3px">4.11</text>
<text x="119.27" y="277.9" transform="scale(0.79,1)" text-anchor="middle" style="font-size:24.3px">4.30</text>
<text x="197.65" y="277.9" transform="scale(0.79,1)" text-anchor="middle" style="font-size:24.3px">5.20</text>
<text x="276.03" y="277.9" transform="scale(0.79,1)" text-anchor="middle" style="font-size:24.3px">6.9</text>
<text x="354.41" y="277.9" transform="scale(0.79,1)" text-anchor="middle" style="font-size:24.3px">6.28</text>
<text x="432.78" y="277.9" transform="scale(0.79,1)" text-anchor="middle" style="font-size:24.3px">7.18</text>
<text x="511.16" y="277.9" transform="scale(0.79,1)" text-anchor="middle" style="font-size:24.3px">8.7</text>
<text x="589.54" y="277.9" transform="scale(0.79,1)" text-anchor="middle" style="font-size:24.3px">8.26</text>
<text x="667.92" y="277.9" transform="scale(0.79,1)" text-anchor="middle" style="font-size:24.3px">9.15</text>
<text x="746.30" y="277.9" transform="scale(0.79,1)" text-anchor="middle" style="font-size:24.3px">10.5</text>
<text x="824.68" y="277.9" transform="scale(0.79,1)" text-anchor="middle" style="font-size:24.3px">10.25</text>
<text x="73.71" y="64.9" transform="scale(0.894,1)" text-anchor="start" style="font-size:23px">Dragons</text>
<text x="77.29" y="89.6" transform="scale(0.841,1)" text-anchor="start" style="font-size:23px">Swallows</text>
<text x="214.63" y="64.9" transform="scale(0.834,1)" text-anchor="start" style="font-size:23px">Tigers</text>
<text x="201.03" y="89.6" transform="scale(0.877,1)" text-anchor="start" style="font-size:23px">Carp</text>
<text x="320.74" y="64.9" transform="scale(0.892,1)" text-anchor="start" style="font-size:23px">Giants</text>
<text x="345.84" y="89.6" transform="scale(0.829,1)" text-anchor="start" style="font-size:23px">BayStars</text>
</g>

<line x1="38" y1="54.3" x2="64" y2="54.3" stroke="#0000ff" stroke-width="2.2"/>
<line x1="38" y1="79.3" x2="64" y2="79.3" stroke="#5ec8fa" stroke-width="2.2"/>
<line x1="148.5" y1="53.9" x2="174" y2="53.9" stroke="#ffff00" stroke-width="3.8" stroke-linecap="round"/>
<line x1="148.5" y1="79.2" x2="174" y2="79.2" stroke="#ff0000" stroke-width="5.5" stroke-linecap="round"/>
<line x1="258.5" y1="53.8" x2="284.5" y2="53.8" stroke="#000" stroke-width="2.2"/>
<line x1="258.5" y1="79.4" x2="284.5" y2="79.4" stroke="#1a1aff" stroke-width="1.3" stroke-dasharray="4.2,3"/>

<defs><filter id="tsh" x="-10%" y="-10%" width="120%" height="130%"><feGaussianBlur in="SourceAlpha" stdDeviation="1"/><feOffset dx="1" dy="1.5" result="b"/><feFlood flood-color="#000" flood-opacity="0.25"/><feComposite in2="b" operator="in"/><feMerge><feMergeNode/><feMergeNode in="SourceGraphic"/></feMerge></filter></defs><g filter="url(#tsh)" style="font-family:'Liberation Serif',serif;font-weight:bold;font-size:53.2px;fill:#f3f0e3;stroke:#2558aa;stroke-width:1.2px" vector-effect="non-scaling-stroke"><text transform="translate(36.45,412) scale(0.891,1)">2</text>
<text transform="translate(60.32,412) scale(1.047,1)">0</text>
<text transform="translate(87.01,412) scale(0.925,1)">1</text>
<text transform="translate(112.54,412) scale(0.920,1)">1</text>
<text transform="translate(136.33,412) scale(0.836,1)">C</text>
<text transform="translate(167.45,412) scale(0.752,1)">E</text>
<text transform="translate(193.19,412) scale(0.804,1)">N</text>
<text transform="translate(224.03,412) scale(0.767,1)">T</text>
<text transform="translate(251.59,412) scale(0.905,1)">R</text>
<text transform="translate(278.94,412) scale(0.768,1)">A</text>
<text transform="translate(307.28,412) scale(0.721,1)">L</text></g>
</svg>
</body></html>
